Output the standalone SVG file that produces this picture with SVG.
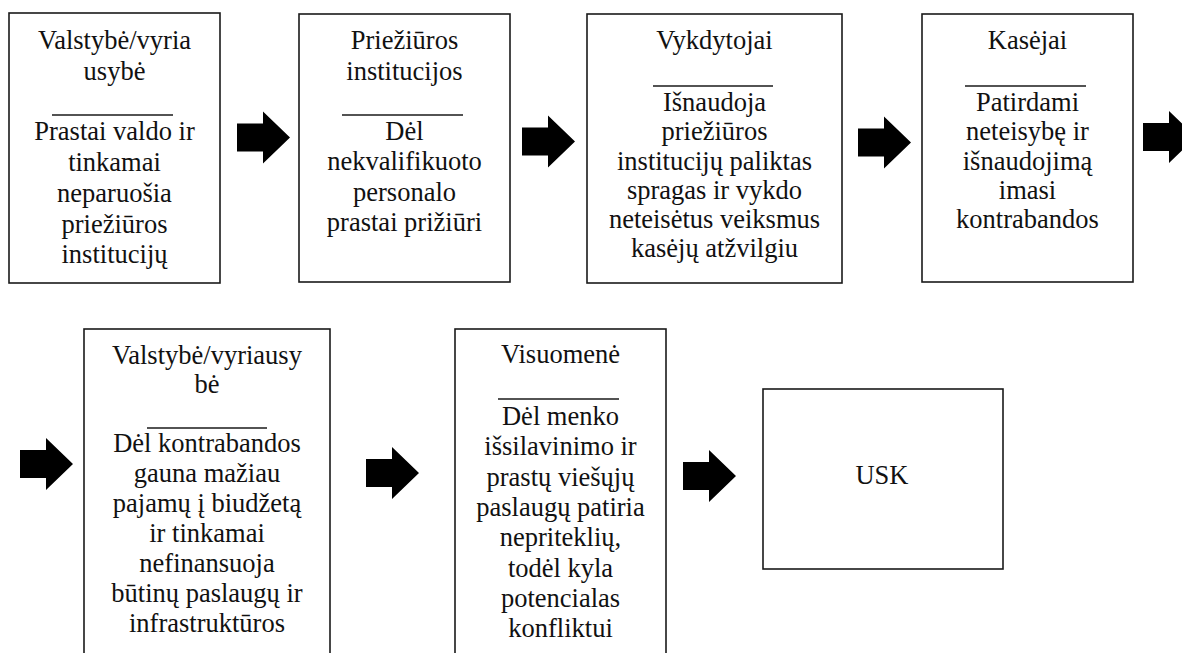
<svg xmlns="http://www.w3.org/2000/svg" xmlns:xlink="http://www.w3.org/1999/xlink" width="1182" height="653" viewBox="0 0 1182 653">
<style>
.box{fill:#fff;stroke:#1a1a1a;stroke-width:1.6}
.sep{stroke:#1a1a1a;stroke-width:1.6}
.t{font-family:'Liberation Serif','Times New Roman',serif;font-size:26.5px;fill:#111;text-anchor:middle}
.arr{fill:#000}
</style>
<defs>
<polygon id="blk" points="0,-14 26,-14 26,-26 53,0 26,26 26,14 0,14"/>
</defs>
<rect width="1182" height="653" fill="#fff"/>
<g id="n1" class="t">
<rect class="box" x="9" y="13" width="211" height="270"/>
<text x="114.5" y="49">Valstybė/vyria</text>
<text x="114.5" y="80">usybė</text>
<line class="sep" x1="52" y1="115" x2="173" y2="115"/>
<text x="114.5" y="140">Prastai valdo ir</text>
<text x="114.5" y="171">tinkamai</text>
<text x="114.5" y="202">neparuošia</text>
<text x="114.5" y="233">priežiūros</text>
<text x="114.5" y="263">institucijų</text>
</g>
<g id="n2" class="t">
<rect class="box" x="299" y="14" width="211" height="268"/>
<text x="404.5" y="49">Priežiūros</text>
<text x="404.5" y="80">institucijos</text>
<line class="sep" x1="342" y1="115" x2="463" y2="115"/>
<text x="404.5" y="140">Dėl</text>
<text x="404.5" y="170">nekvalifikuoto</text>
<text x="404.5" y="201">personalo</text>
<text x="404.5" y="231">prastai prižiūri</text>
</g>
<g id="n3" class="t">
<rect class="box" x="587" y="14" width="255" height="269"/>
<text x="714.5" y="49">Vykdytojai</text>
<line class="sep" x1="653" y1="86" x2="773" y2="86"/>
<text x="714.5" y="111">Išnaudoja</text>
<text x="714.5" y="140">priežiūros</text>
<text x="714.5" y="169.5">institucijų paliktas</text>
<text x="714.5" y="199">spragas ir vykdo</text>
<text x="714.5" y="228">neteisėtus veiksmus</text>
<text x="714.5" y="257">kasėjų atžvilgiu</text>
</g>
<g id="n4" class="t">
<rect class="box" x="922" y="14" width="211" height="268"/>
<text x="1027.5" y="49">Kasėjai</text>
<line class="sep" x1="965" y1="86" x2="1086" y2="86"/>
<text x="1027.5" y="111">Patirdami</text>
<text x="1027.5" y="140">neteisybę ir</text>
<text x="1027.5" y="169.5">išnaudojimą</text>
<text x="1027.5" y="199">imasi</text>
<text x="1027.5" y="228">kontrabandos</text>
</g>
<g id="n5" class="t">
<rect class="box" x="84" y="329" width="246" height="340"/>
<text x="207" y="364">Valstybė/vyriausy</text>
<text x="207" y="393">bė</text>
<line class="sep" x1="147" y1="428" x2="267" y2="428"/>
<text x="207" y="452">Dėl kontrabandos</text>
<text x="207" y="482">gauna mažiau</text>
<text x="207" y="512">pajamų į biudžetą</text>
<text x="207" y="542">ir tinkamai</text>
<text x="207" y="572">nefinansuoja</text>
<text x="207" y="602">būtinų paslaugų ir</text>
<text x="207" y="632">infrastruktūros</text>
</g>
<g id="n6" class="t">
<rect class="box" x="455" y="329" width="211" height="340"/>
<text x="560.5" y="363">Visuomenė</text>
<line class="sep" x1="498" y1="399" x2="619" y2="399"/>
<text x="560.5" y="425">Dėl menko</text>
<text x="560.5" y="455">išsilavinimo ir</text>
<text x="560.5" y="486">prastų viešųjų</text>
<text x="560.5" y="516">paslaugų patiria</text>
<text x="560.5" y="546">nepriteklių,</text>
<text x="560.5" y="577">todėl kyla</text>
<text x="560.5" y="607">potencialas</text>
<text x="560.5" y="637">konfliktui</text>
</g>
<g id="n7" class="t">
<rect class="box" x="763" y="389" width="240" height="180"/>
<text x="882" y="484">USK</text>
</g>
<g id="connectors">
<use xlink:href="#blk" class="arr" transform="translate(237,137.5)"/>
<use xlink:href="#blk" class="arr" transform="translate(522,141.5)"/>
<use xlink:href="#blk" class="arr" transform="translate(858,142.5)"/>
<use xlink:href="#blk" class="arr" transform="translate(1143,137)"/>
<use xlink:href="#blk" class="arr" transform="translate(20,464)"/>
<use xlink:href="#blk" class="arr" transform="translate(366,473)"/>
<use xlink:href="#blk" class="arr" transform="translate(683,476)"/>
</g>
</svg>
